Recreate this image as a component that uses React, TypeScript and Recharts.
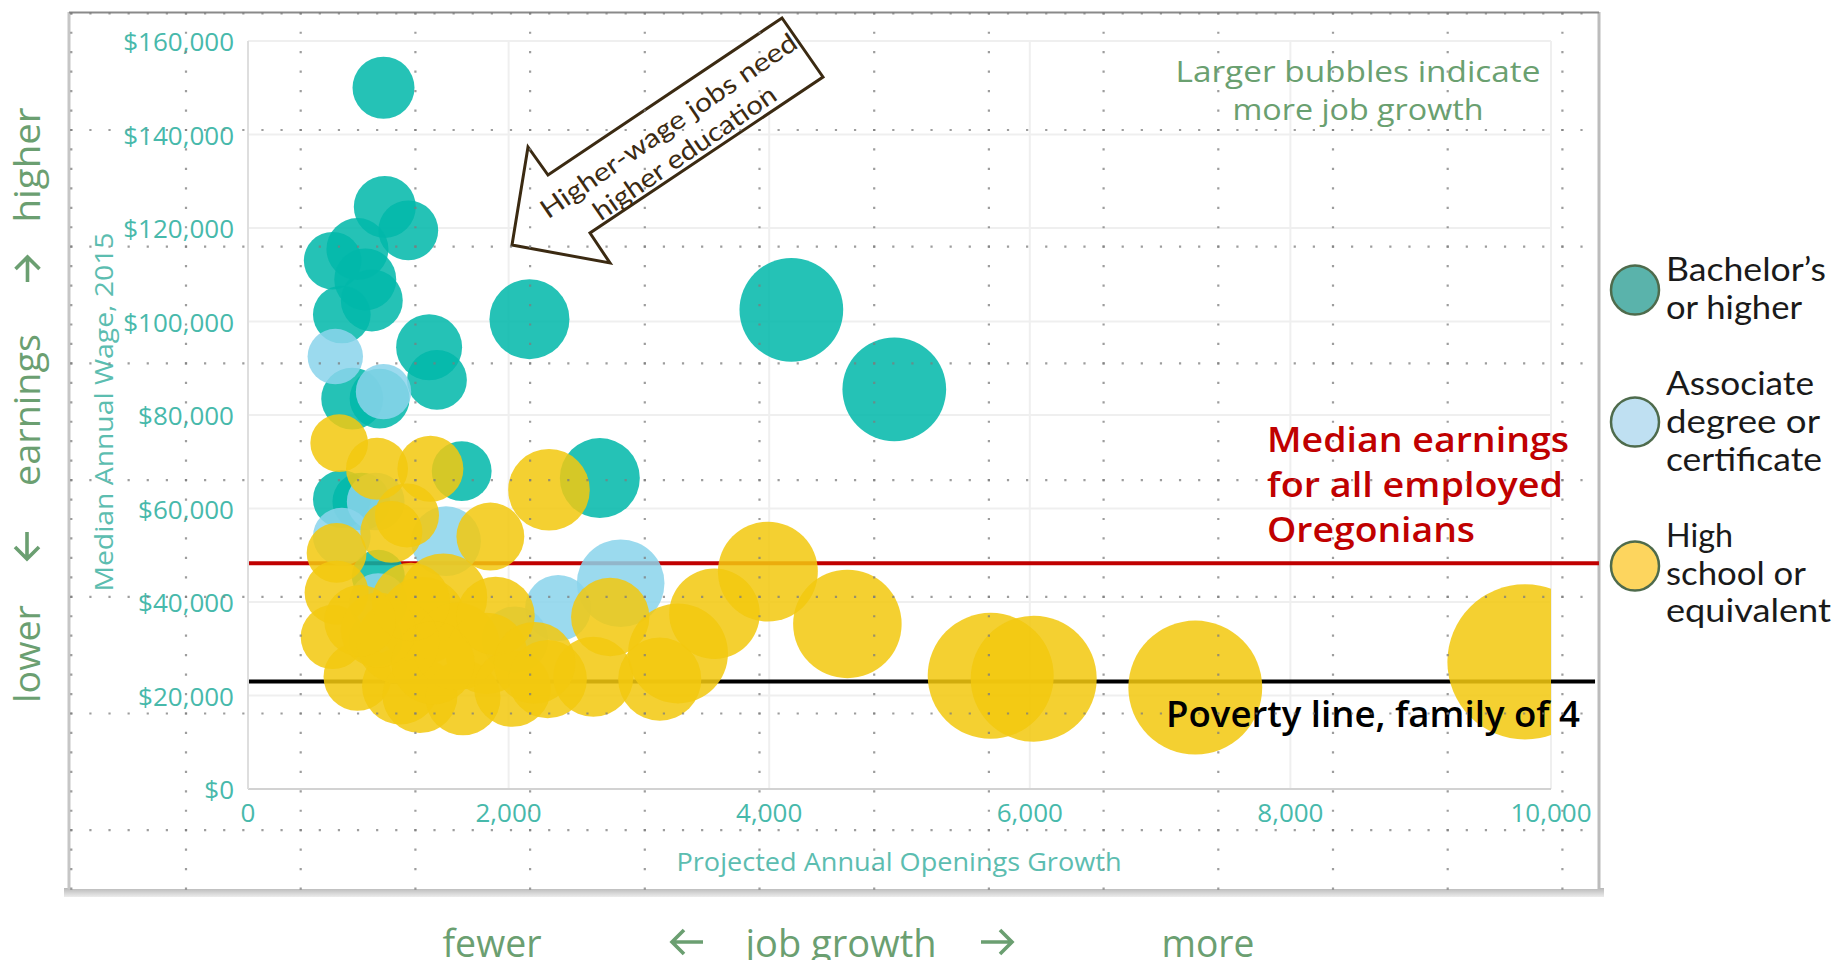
import React from 'react';
import { ScatterChart, Scatter, XAxis, YAxis, ZAxis, CartesianGrid, ReferenceLine } from 'recharts';

// ---------- data ----------
const xTicks = [0, 2000, 4000, 6000, 8000, 10000];
const yTicks = [0, 20000, 40000, 60000, 80000, 100000, 120000, 140000, 160000];

// Bachelor's or higher
const bachelorsGrowth = [1040, 1050, 1230, 650, 840, 950, 720, 1390, 1450, 800, 1010, 900, 2160, 4170, 4960, 720, 870, 1640, 2700, 1000];
const bachelorsWage = [150000, 124500, 119500, 113000, 115500, 104500, 101500, 94500, 87500, 83500, 83500, 109000, 100500, 102500, 85500, 62000, 61500, 68000, 66500, 45500];
const bachelorsSize = [15, 15, 14, 13, 15, 15, 13, 17, 14, 15, 14, 15, 25, 42, 42, 13, 13, 14, 25, 11];

// Associate degree or certificate
const associateGrowth = [670, 1040, 980, 720, 1520, 2860, 2380, 2050, 1000, 980];
const associateWage = [92500, 85000, 61500, 54000, 53000, 44000, 38700, 32000, 40000, 32000];
const associateSize = [12, 12, 13, 13, 19, 30, 17, 17, 13, 11];

// High school or equivalent
const highSchoolGrowth = [700, 990, 1400, 1220, 1860, 2310, 680, 680, 650, 840, 1170, 1340, 1500, 1320, 1650, 1830, 1600, 2030, 2300, 2650, 2780, 3160, 3300, 3580, 3990, 4600, 5700, 6030, 7270, 9800, 1150, 1100, 1000, 1250, 1900, 2200, 860, 1420];
const highSchoolWage = [74000, 68500, 68500, 58500, 54000, 64000, 50500, 42000, 32500, 24000, 22000, 36000, 41000, 20000, 19500, 29000, 30500, 21500, 23500, 24000, 36800, 23500, 29000, 37500, 46500, 35300, 24200, 23600, 21700, 27200, 31500, 55000, 34000, 40000, 37000, 27000, 36000, 27000];
const highSchoolSize = [13, 15, 17, 16, 18, 26, 14, 16, 16, 18, 23, 30, 30, 22, 22, 26, 30, 23, 24, 25, 24, 27, 39, 32, 39, 46, 62, 62, 70, 94, 27, 15, 22, 24, 24, 26, 20, 27];

const medianEarnings = 48300;
const povertyLine = 23000;

const legendLabels = [
  ["Bachelor\u2019s", "or higher"],
  ["Associate", "degree or", "certificate"],
  ["High", "school or", "equivalent"],
];

// ---------- styling ----------
const TEAL = '#01B8AA';
const LIGHTBLUE = '#8AD4EB';
const YELLOW = '#F2C80F';
const AXIS_TEXT = '#47b9ab';
const GREEN_TEXT = '#6b9f71';
const FONT = '"Open Sans", "Noto Sans", sans-serif';
const GOTHIC = 'Lato, "Noto Sans", sans-serif';

const makePoints = (g: number[], w: number[], s: number[]) =>
  g.map((x, i) => ({ growth: x, wage: w[i], size: s[i] }));

const bachelors = makePoints(bachelorsGrowth, bachelorsWage, bachelorsSize);
const associate = makePoints(associateGrowth, associateWage, associateSize);
const highSchool = makePoints(highSchoolGrowth, highSchoolWage, highSchoolSize);

const fmtMoney = (v: number) => '$' + v.toLocaleString('en-US');
const fmtNum = (v: number) => v.toLocaleString('en-US');

const bubble = (color: string) => (p: any) => {
  let r = p.width != null ? p.width / 2 : Math.sqrt((p.size || 0) / Math.PI);
  if (!isFinite(r)) r = 25;
  return <circle cx={p.cx} cy={p.cy} r={r} fill={color} fillOpacity={0.86} />;
};

const YTick = (p: any) => (
  <text x={p.x - 14} y={p.y} textAnchor="end" dominantBaseline="central" fontFamily={FONT} fontSize={26} fill={AXIS_TEXT}>
    {fmtMoney(p.payload.value)}
  </text>
);
const XTick = (p: any) => (
  <text x={p.x} y={p.y + 23} textAnchor="middle" dominantBaseline="central" fontFamily={FONT} fontSize={26} fill={AXIS_TEXT}>
    {fmtNum(p.payload.value)}
  </text>
);

// canvas dot grid (decoration of the source screenshot)
const DotGrid = () => {
  const lines: any[] = [];
  const x0 = 186, dx = 114.7, y0 = 130, dy = 116.7;
  for (let k = -1; k <= 12; k++) {
    const x = x0 + dx * k;
    lines.push(
      <line key={'v' + k} x1={x} x2={x} y1={y0 - dy - 1.1} y2={892} stroke="#7d7d7d" strokeWidth={2.2}
        strokeDasharray={`2.2 ${dy / 6 - 2.2}`} opacity={0.75} />
    );
  }
  for (let k = -1; k <= 6; k++) {
    const y = y0 + dy * k;
    lines.push(
      <line key={'h' + k} x1={x0 - dx - 1.1} x2={1599} y1={y} y2={y} stroke="#7d7d7d" strokeWidth={2.2}
        strokeDasharray={`2.2 ${dx / 6 - 2.2}`} opacity={0.75} />
    );
  }
  return <g>{lines}</g>;
};

const Legend = () => {
  const items = [
    { fill: '#5ab3ab', cy: 290, baselines: [281, 319], widths: [160, 136] },
    { fill: '#bfe0f2', cy: 422, baselines: [395, 433, 471], widths: [148, 154, 156] },
    { fill: '#fdd55e', cy: 566, baselines: [547, 585, 622], widths: [67, 140, 165] },
  ];
  return (
    <g>
      {items.map((it, i) => (
        <g key={i}>
          <ellipse cx={1635} cy={it.cy} rx={24} ry={24.5} fill={it.fill} stroke="#4e6b4c" strokeWidth={2.5} />
          {legendLabels[i].map((t, j) => (
            <text key={j} x={1666} y={it.baselines[j]} fontFamily={GOTHIC} fontSize={33} fill="#1a1a1a"
              textLength={it.widths[j]} lengthAdjust="spacingAndGlyphs">{t}</text>
          ))}
        </g>
      ))}
    </g>
  );
};

const ArrowPath = ({ d }: { d: string }) => (
  <path d={d} fill="none" stroke={GREEN_TEXT} strokeWidth={3.6} strokeLinecap="butt" strokeLinejoin="miter" />
);

const SideText = () => {
  const parts = [
    { t: 'higher', c: 165, w: 115 },
    { t: 'earnings', c: 410, w: 152 },
    { t: 'lower', c: 654, w: 98 },
  ];
  return (
    <g>
      {parts.map((p, i) => (
        <text key={i} transform={`translate(40,${p.c}) rotate(-90)`} textAnchor="middle" fontFamily={FONT}
          fontSize={37} fill={GREEN_TEXT} textLength={p.w} lengthAdjust="spacingAndGlyphs">{p.t}</text>
      ))}
      <ArrowPath d="M27.5,282 L27.5,257 M15.5,269 L27.5,257 L39.5,269" />
      <ArrowPath d="M27,532 L27,559 M15,547 L27,559 L39,547" />
    </g>
  );
};

const BottomText = () => {
  const parts = [
    { t: 'fewer', c: 492, w: 99 },
    { t: 'job growth', c: 841, w: 191 },
    { t: 'more', c: 1208, w: 93 },
  ];
  return (
    <g>
      {parts.map((p, i) => (
        <text key={i} x={p.c} y={957} textAnchor="middle" fontFamily={FONT} fontSize={38} fill={GREEN_TEXT}
          textLength={p.w} lengthAdjust="spacingAndGlyphs">{p.t}</text>
      ))}
      <ArrowPath d="M703,942 L672,942 M684,930 L672,942 L684,954" />
      <ArrowPath d="M981,942 L1012,942 M1000,930 L1012,942 L1000,954" />
    </g>
  );
};

const Callout = () => (
  <g>
    <polygon points="512,245 528,147 548,175 782,18 823,77 590,233 610,263" fill="#ffffff" stroke="#3b2a12"
      strokeWidth={3} strokeLinejoin="miter" />
    <text transform="translate(668,125) rotate(-34.5)" textAnchor="middle" dominantBaseline="central"
      fontFamily={GOTHIC} fontSize={26} fill="#3b2a12" textLength={305} lengthAdjust="spacingAndGlyphs">
      Higher-wage jobs need
    </text>
    <text transform="translate(684,152) rotate(-34.5)" textAnchor="middle" dominantBaseline="central"
      fontFamily={GOTHIC} fontSize={26} fill="#3b2a12" textLength={216} lengthAdjust="spacingAndGlyphs">
      higher education
    </text>
  </g>
);

export default function App() {
  return (
    <div style={{ position: 'fixed', left: 0, top: 0, width: 1835, height: 960, overflow: 'hidden', background: '#ffffff' }}>
      <svg width={1835} height={960} style={{ position: 'absolute', left: 0, top: 0 }}>
        <defs>
          <linearGradient id="shadow" x1="0" y1="0" x2="0" y2="1">
            <stop offset="0" stopColor="#b8b8b8" />
            <stop offset="1" stopColor="#ececec" />
          </linearGradient>
        </defs>
        <rect x={64} y={888} width={1540} height={9} fill="url(#shadow)" />
        <rect x={69} y={12} width={1530} height={877} fill="#ffffff" stroke="none" />
        <line x1={69} x2={69} y1={12} y2={889} stroke="#c6c6c6" strokeWidth={3} />
        <line x1={1599} x2={1599} y1={12} y2={889} stroke="#bcbcbc" strokeWidth={3} />
        <line x1={69} x2={1599} y1={12.5} y2={12.5} stroke="#8a8a8a" strokeWidth={2} />
      </svg>

      <div style={{ position: 'absolute', left: 0, top: 0 }}>
        <ScatterChart width={1835} height={960} margin={{ top: 41, right: 284, bottom: 91, left: 88 }}>
          <CartesianGrid stroke="#efefef" strokeWidth={2} />
          <XAxis type="number" dataKey="growth" domain={[0, 10000]} ticks={xTicks} interval={0} allowDataOverflow
            height={80} tickSize={0} tickMargin={0} tick={<XTick />} axisLine={{ stroke: '#d2d2d2', strokeWidth: 2 }} tickLine={false} />
          <YAxis type="number" dataKey="wage" domain={[0, 160000]} ticks={yTicks} interval={0} width={160}
            tickSize={0} tickMargin={0} tick={<YTick />} axisLine={{ stroke: '#dedede', strokeWidth: 2 }} tickLine={false} />
          <ZAxis type="number" dataKey="size" domain={[0, 100]} range={[0, 20106]} />
          <Scatter name="Bachelor's or higher" data={bachelors} fill={TEAL} shape={bubble(TEAL)} isAnimationActive={false} />
          <Scatter name="Associate degree or certificate" data={associate} fill={LIGHTBLUE} shape={bubble(LIGHTBLUE)} isAnimationActive={false} />
          <Scatter name="High school or equivalent" data={highSchool} fill={YELLOW} shape={bubble(YELLOW)} isAnimationActive={false} />
          <ReferenceLine segment={[{ x: 0, y: medianEarnings }, { x: 10368, y: medianEarnings }]} ifOverflow="visible"
            stroke="#c00000" strokeWidth={4} />
          <ReferenceLine segment={[{ x: 0, y: povertyLine }, { x: 10338, y: povertyLine }]} ifOverflow="visible"
            stroke="#000000" strokeWidth={4} />
        </ScatterChart>
      </div>

      <svg width={1835} height={960} style={{ position: 'absolute', left: 0, top: 0, pointerEvents: 'none' }}>
        <text transform="translate(113,412) rotate(-90)" textAnchor="middle" fontFamily={FONT} fontSize={26}
          fill="#5cbdb0" textLength={359} lengthAdjust="spacingAndGlyphs">Median Annual Wage, 2015</text>
        <text x={899} y={871} textAnchor="middle" fontFamily={FONT} fontSize={26} fill="#5cbdb0"
          textLength={445} lengthAdjust="spacingAndGlyphs">Projected Annual Openings Growth</text>

        <text x={1358} y={82} textAnchor="middle" fontFamily={FONT} fontSize={30} fill="#6aa070"
          textLength={365} lengthAdjust="spacingAndGlyphs">Larger bubbles indicate</text>
        <text x={1358} y={120} textAnchor="middle" fontFamily={FONT} fontSize={30} fill="#6aa070"
          textLength={251} lengthAdjust="spacingAndGlyphs">more job growth</text>

        <text x={1267} y={452} fontFamily={FONT} fontSize={34} fontWeight={600} fill="#c00000"
          textLength={302} lengthAdjust="spacingAndGlyphs">Median earnings</text>
        <text x={1267} y={497} fontFamily={FONT} fontSize={34} fontWeight={600} fill="#c00000"
          textLength={296} lengthAdjust="spacingAndGlyphs">for all employed</text>
        <text x={1267} y={542} fontFamily={FONT} fontSize={34} fontWeight={600} fill="#c00000"
          textLength={208} lengthAdjust="spacingAndGlyphs">Oregonians</text>

        <text x={1166} y={727} fontFamily={FONT} fontSize={36} fontWeight={600} fill="#000000"
          textLength={414} lengthAdjust="spacingAndGlyphs">Poverty line, family of 4</text>

        <Callout />
        <DotGrid />
        <Legend />
        <SideText />
        <BottomText />
      </svg>
    </div>
  );
}
